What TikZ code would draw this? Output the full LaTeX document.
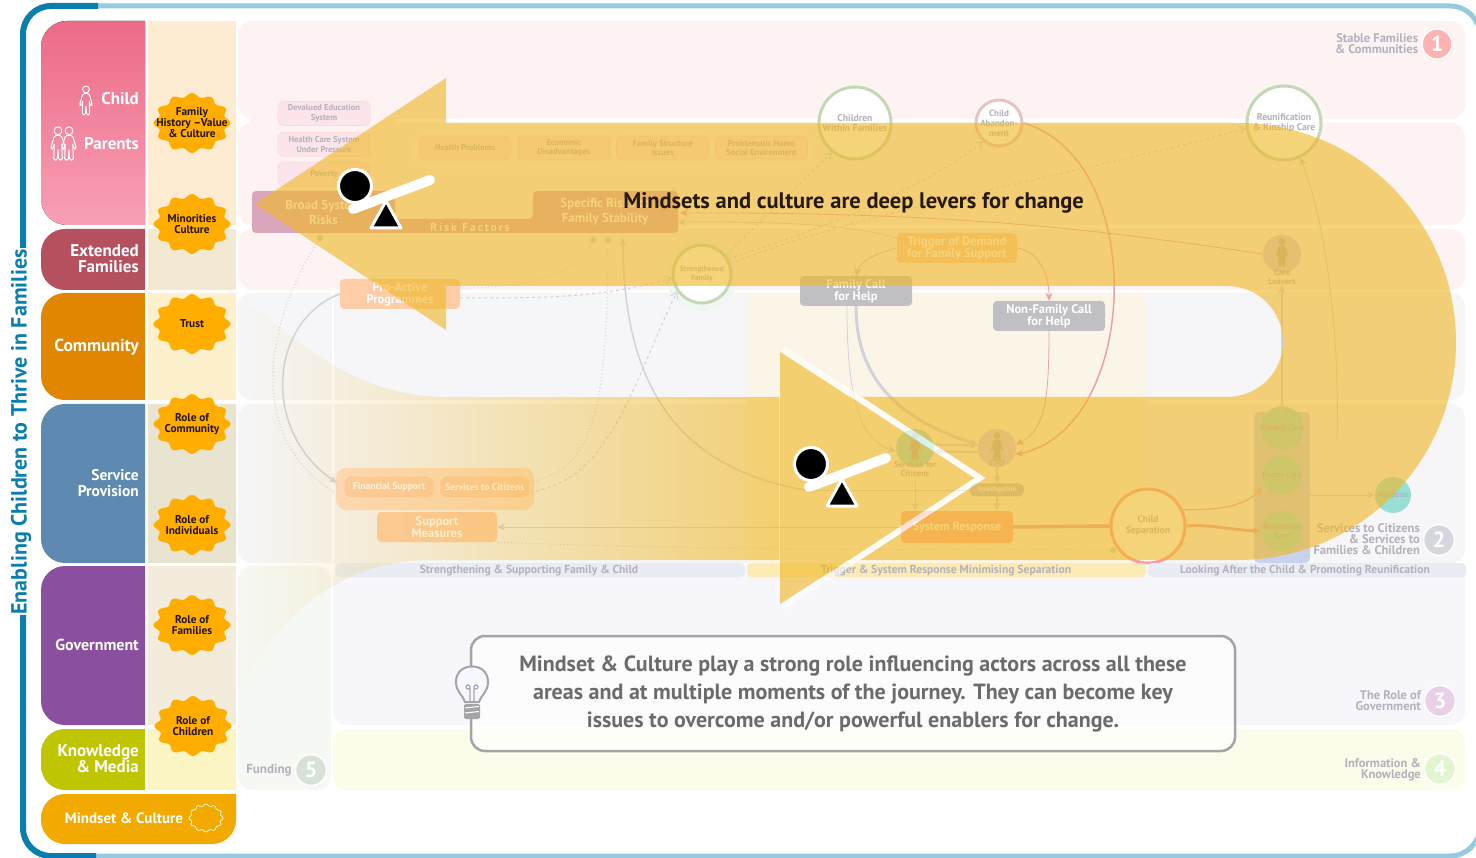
\documentclass[tikz,border=0pt]{standalone}
\usepackage{fontspec}
\setmainfont{PT Sans}
\usepackage{xcolor}
\usepackage{tikz}
\usetikzlibrary{arrows.meta,positioning,fadings,calc}
\definecolor{framedark}{HTML}{0A7FAE}
\definecolor{framelight}{HTML}{96CADF}
\definecolor{gold}{HTML}{FFAE00}
\definecolor{ribbon}{HTML}{F0B827}
\definecolor{faintline}{HTML}{D2D2D8}
\definecolor{fainttext}{HTML}{B4B0BC}
\definecolor{faintgreen}{HTML}{C3D9B5}
\definecolor{pinkline}{HTML}{E8A2AA}
\definecolor{callgray}{HTML}{C0C0C4}
\definecolor{bulbgray}{HTML}{A4A4A8}
\definecolor{bandpink}{HTML}{FDF3F3}
\definecolor{bandgray}{HTML}{F6F6F8}
\definecolor{bandtrigger}{HTML}{FBF5E8}
\definecolor{bandgov}{HTML}{F6F6FB}
\definecolor{bandinfo}{HTML}{FCFCEB}
\definecolor{bandfund}{HTML}{F6F8F4}
\definecolor{riskband}{HTML}{D9A6BC}
\definecolor{riskfill}{HTML}{FBE5EA}
\definecolor{careteal}{HTML}{9ADFD5}
\definecolor{actorblue}{HTML}{D6CFE8}
\definecolor{carecol}{HTML}{C8D2EC}
\definecolor{stagepeach}{HTML}{FFCDA8}
\definecolor{systempeach}{HTML}{FFB091}
\definecolor{pillblue}{HTML}{E9EDF3}
\definecolor{pilltrigger}{HTML}{FDEBB5}
\tikzfading[name=tailfade,left color=transparent!100,middle color=transparent!25,right color=transparent!0]
\tikzset{
  fs/.style 2 args={font=\fontsize{#1}{#2}\selectfont\bfseries},
  arr/.style={-{Stealth[length=8pt,width=7pt]},thick},
  openarr/.style={-{Straight Barb[length=6pt,width=8pt]},line width=1pt,dashed,dash pattern=on 3pt off 3pt},
  dotline/.style={line width=1pt,dash pattern=on 1pt off 2.5pt},
  rolelabel/.style={fs={17}{16},white,align=right,anchor=east,inner sep=0},
  badgetext/.style={fs={11.3}{11},text=black!85!orange,align=center,inner sep=0},
  riskbox/.style={rectangle,rounded corners=6pt,fill=riskfill,draw=#1,line width=.8pt,minimum width=92pt,
    minimum height=24pt,inner sep=0,align=center,fs={8.5}{9.5},text=fainttext},
  riskbox/.default={pink!60!white},
  stagebox/.style={rectangle,rounded corners=4pt,minimum width=120pt,minimum height=30pt,
    inner sep=0,align=center,fs={12.5}{12},text=white},
  callbox/.style={stagebox,fill=callgray,minimum width=112pt},
  stage/.style={circle,fill=white,draw=faintgreen,line width=3pt,inner sep=0,align=center,
    fs={9.7}{10},text=fainttext},
  carenode/.style={circle,fill=#1,minimum size=36pt,inner sep=0,align=center,fs={8}{9},text=fainttext},
  actorring/.style={circle,fill=#1,minimum size=38pt,inner sep=0},
  pilllabel/.style={fs={11.6}{11},text=fainttext,inner sep=0},
  sidelabel/.style={fs={12.5}{11},text=fainttext,align=right,inner sep=0,anchor=east},
  number/.style={circle,fill=#1,draw=white,line width=1.5pt,minimum size=31pt,inner sep=0,
    fs={22}{22},text=white},
}
% wavy seal outline round a centre
\newcommand{\scallop}[5]{%
  \path[#5] plot[domain=0:360,samples=145,smooth]
    ({#1+(#3+.07*#3*cos(12*\x))*cos(\x)},{#2+(#4+.07*#4*cos(12*\x))*sin(\x)}) -- cycle;}
% small standing figure
\newcommand{\figureicon}[4]{%
  \begin{scope}[shift={(#1,#2)},scale=#3]
    \path[#4] (0,-11.5) circle (3.4);
    \path[#4,rounded corners=1.6pt] (-3,-7.5) -- (3,-7.5) -- (6.5,4) -- (4.2,4.4) -- (3.2,-1)
      -- (3.8,14) -- (.5,14) -- (0,4) -- (-.5,14) -- (-3.8,14) -- (-3.2,-1) -- (-4.2,4.4) -- (-6.5,4) -- cycle;
  \end{scope}}
\begin{document}
\begin{tikzpicture}[x=1pt,y=-1pt]
\useasboundingbox (0,0) rectangle (1476,858);
\fill[white] (0,0) rectangle (1476,858);

% background bands
\foreach \ya/\yb in {21/119,123/225,229/290}
  \fill[rounded corners=14pt,fill=bandpink] (238,\ya) rectangle (1465,\yb);
\foreach \ya/\yb in {293/400,404/563}
  \fill[rounded corners=14pt,fill=bandgray] (238,\ya) rectangle (1465,\yb);
\fill[rounded corners=8pt,fill=bandtrigger] (747,293) rectangle (1146,563);
\fill[rounded corners=14pt,fill=bandgov] (333,566) rectangle (1465,725);
\fill[rounded corners=14pt,fill=bandinfo] (333,729) rectangle (1465,790);
\fill[rounded corners=14pt,fill=bandfund] (238,566) rectangle (331,790);
\draw[white,line width=1.5pt] (333,293) -- (333,563);

% left columns
\foreach \ya/\yb/\tint in {21/225/FDEBD2,229/290/F3E9D3,293/400/FDF0CC,404/563/E8E4D0,566/725/F3ECDC,729/790/FBF4C3}{
  \definecolor{tintcol}{HTML}{\tint}
  \fill[tintcol] (148,\ya) rectangle (236,\yb);}
\definecolor{pinktop}{HTML}{EC6A87}
\definecolor{pinkbottom}{HTML}{F8A0B4}
\fill[top color=pinktop,bottom color=pinkbottom]
  (145,21) [rounded corners=26pt] -- (41,21) -- (41,225) [sharp corners] -- (145,225) -- cycle;
\foreach \ya/\yb/\col in {229/290/B5505F,293/400/E08600,404/563/5E89B0,566/725/8B4F9F,729/790/BFC500}{
  \definecolor{blockcol}{HTML}{\col}
  \fill[blockcol] (145,\ya) [rounded corners=24pt] -- (41,\ya) -- (41,\yb) [sharp corners] -- (145,\yb) -- cycle;}
\fill[orange!60!yellow!95!black] (236,794) [rounded corners=24pt] -- (41,794) -- (41,844) -- (236,844)
  [sharp corners] -- (236,794) -- cycle;

\node[rolelabel] (child) at (139,99) {Child};
\node[rolelabel] (parents) at (139,144) {Parents};
\figureicon{86}{101}{1}{draw=white,line width=1pt}
\figureicon{58}{144}{1.15}{draw=white,line width=1pt}
\figureicon{69}{144}{1.15}{draw=white,line width=1pt}
\node[rolelabel] (extended) at (139,259) {Extended\\Families};
\node[rolelabel,fs={17.5}{16}] (community) at (139,347) {Community};
\node[rolelabel,fs={15.5}{16}] (service) at (139,483) {Service\\Provision};
\node[rolelabel,fs={16}{16}] (government) at (139,645) {Government};
\node[rolelabel] (media) at (139,759) {Knowledge\\\& Media};
\node[fs={15}{16},white,inner sep=0] (mindset) at (124,818) {Mindset \& Culture};
\scallop{206}{818}{16}{13}{draw=white,line width=.7pt}

% badges
\foreach \bx/\by/\bname/\btext in {192/123/bfam/{Family\\History --Value\\\& Culture},
    192/224/bmin/{Minorities\\Culture},192/324/btru/{Trust},192/424/bcom/{Role of\\Community},
    192/525/bind/{Role of\\Individuals},192/625/brol/{Role of\\Families},193/726/bchi/{Role of\\Children}}{
  \scallop{\bx}{\by}{36}{28}{fill=gold}
  \node[badgetext] (\bname) at (\bx,\by) {\btext};}

% risk factors
\fill[rounded corners=12pt,red!5!white] (250,95) rectangle (396,215);
\fill[rounded corners=12pt,red!4!white] (412,130) rectangle (812,170);
\node[riskbox] (edu) at (324,113.5) {Devalued Education\\System};
\node[riskbox,below=6pt of edu] (health) {Health Care System\\Under Pressure};
\node[riskbox,below=5pt of health] (poverty) {Poverty};
\node[riskbox] (hprob) at (465,148) {Health Problems};
\node[riskbox,right=6pt of hprob] (econ) {Economic\\Disadvantages};
\node[riskbox,right=6pt of econ] (struct) {Family Structure\\Issues};
\node[riskbox,right=6pt of struct] (home) {Problematic Home\\Social Environment};
\fill[riskband,rounded corners=4pt] (252,191) -- (395,191) -- (395,219) -- (533,219)
  -- (533,191) -- (678,191) -- (678,233) -- (252,233) -- cycle;
\node[fs={13}{15},white,align=center,inner sep=0] (broad) at (323.5,212) {Broad System\\Risks};
\node[fs={13}{15},white,align=center,inner sep=0] (specific) at (605,212) {Specific Risks to\\Family Stability};
\node[fs={11.5}{12},white,inner sep=0] (riskfac) at (470,227.5) {R\,i\,s\,k\ \ F\,a\,c\,t\,o\,r\,s};

% journey nodes
\node[stage,minimum size=72pt] (within) at (855,123) {Children\\Within Families};
\node[stage,minimum size=46pt,draw=pink!70!gray!70!white,fs={9}{10}] (abandon) at (999,123) {Child\\Abandon-\\ment};
\node[stage,minimum size=74pt] (reunion) at (1284,123) {Reunification\\\& Kinship Care};
\fill[green!25!black!5!white] (702,274) circle (37);
\node[stage,minimum size=58pt,fs={7.5}{9}] (strong) at (702,274) {Strengthened\\Family};
\node[stagebox,fill=stagepeach] (trigger) at (957,248) {Trigger of Demand\\for Family Support};
\node[callbox] (famcall) at (856,291) {Family Call\\for Help};
\node[callbox] (noncall) at (1049,316) {Non-Family Call\\for Help};
\node[stagebox,fill=stagepeach] (proact) at (400,294) {Pro-Active\\Programmes};
\fill[rounded corners=10pt,stagepeach!70!white] (336,468) rectangle (534,510);
\node[riskbox=white!50!orange!40!white,fill=stagepeach,minimum width=90pt,minimum height=22pt,text=white,fs={9.6}{10}] (finsup) at (389,487) {Financial Support};
\node[riskbox=white!50!orange!40!white,fill=stagepeach,minimum width=90pt,minimum height=22pt,text=white,fs={9.6}{10},right=5pt of finsup] (servcit) {Services to Citizens};
\node[stagebox,fill=stagepeach] (support) at (437,527) {Support\\Measures};
\node[stagebox,fill=systempeach,minimum width=112pt,minimum height=32pt,fs={12}{12}] (system) at (957,527) {System Response};
\node[stage,minimum size=74pt,draw=pink!60!red!70!white,fs={9.5}{11}] (childsep) at (1148,526) {Child\\Separation};
\node[actorring=careteal] (services) at (915,448) {};
\figureicon{915}{447}{1}{fill=black!30}
\node[fs={8.5}{9},text=fainttext,align=center,inner sep=0] (servlabel) at (915,469) {Services for\\Citizens};
\node[actorring=actorblue] (cpo) at (997,448) {};
\figureicon{997}{447}{1}{fill=black!30}
\node[fs={8.5}{9},text=fainttext,inner sep=0] (cpolabel) at (997,464) {CPO};
\node[rectangle,rounded corners=5pt,fill=callgray,minimum width=54pt,minimum height=13pt,inner sep=0,fs={7}{8},text=white] (invest) at (997,490) {Investigation};
\node[actorring=actorblue] (leavers) at (1282,254) {};
\figureicon{1282}{253}{1}{fill=black!30}
\node[fs={8.5}{9},text=fainttext,align=center,inner sep=0] (leavelabel) at (1282,277) {Care\\Leavers};
\fill[rounded corners=5pt,carecol] (1254,412) rectangle (1310,563);
\node[carenode=careteal] (kinship) at (1282,428) {Kinship Care};
\node[carenode=careteal] (foster) at (1282,475) {Foster Care};
\node[carenode=careteal] (resid) at (1282,531) {Residential\\Care};
\node[carenode=careteal] (adopt) at (1393,495) {Adoption};
\coordinate (colright) at (1310,495);
\coordinate (coltop) at (1282,412);
\coordinate (colup) at (1337,440);
\coordinate (dotbroad) at (320,238);
\coordinate (dotrisk) at (593,240);
\coordinate (dotfam) at (608,240);
\coordinate (arrfam) at (623,238);
\coordinate (dotsep) at (1113,550);
\coordinate (seesawend) at (805,490);

% connectors
\draw[arr,draw=faintline,line width=1.5pt] (proact.west) .. controls (270,320) and (260,430) .. (337,483);
\draw[dotline,draw=faintline] (dotbroad) .. controls (260,330) and (250,440) .. (334,492);
\fill[faintgreen] (dotbroad) circle (3);
\draw[openarr,draw=faintline] (proact.east |- 0,298) .. controls (550,298) and (600,298) .. (strong.188);
\draw[dotline,draw=faintline] (proact.east |- 0,288) .. controls (540,288) and (580,270) .. (dotrisk);
\fill[faintgreen] (dotrisk) circle (3);
\draw[dotline,draw=faintline] (servcit.east |- 0,482) .. controls (590,470) and (608,420) .. (dotfam);
\fill[faintgreen] (dotfam) circle (3);
\draw[openarr,draw=faintline] (servcit.east |- 0,492) .. controls (610,480) and (630,390) .. (strong.215);
\draw[arr,draw=faintline,line width=1.5pt] (seesawend) .. controls (690,470) and (623,400) .. (arrfam);
\draw[arr,draw=faintline,line width=1pt] (system.west) -- (support.east);
\draw[dotline,draw=faintline] (support.south east) .. controls (700,550) and (900,550) .. (dotsep);
\fill[faintgreen] (dotsep) circle (3);
\draw[openarr,draw=faintline] (strong.38) -- (within.232);
\draw[openarr,draw=faintline] (strong.30) .. controls (820,230) and (920,190) .. (abandon.230);
\draw[openarr,draw=faintline] (strong.20) .. controls (860,210) and (1100,170) .. (reunion.188);
\draw[arr,draw=faintline] (trigger.west |- 0,238) .. controls (840,222) and (760,222) .. (678,222);
\draw[arr,draw=pinkline] (leavers.west) .. controls (1100,230) and (960,212) .. (680,213);
\draw[arr,draw=pinkline!60!faintline] (trigger.west) .. controls (880,252) and (860,260) .. (famcall.north);
\draw[arr,draw=pinkline] (trigger.east) .. controls (1035,250) and (1049,270) .. (noncall.north);
\draw[arr,draw=pinkline] (noncall.south) .. controls (1049,400) and (1045,430) .. (cpo.10);
\draw[arr,draw=pinkline,line width=1.5pt] (abandon.east) .. controls (1150,160) and (1140,430) .. (cpo.340);
\draw[arr,draw=faintline,line width=3pt] (famcall.south) .. controls (856,380) and (900,420) .. (cpo.170);
\draw[arr,draw=faintline] (famcall.south -| 847,0) .. controls (847,400) and (860,440) .. (services.190);
\draw[arr,draw=faintline,line width=2pt] (services.10) -- (cpo.172);
\draw[arr,draw=faintline,line width=2pt] (cpo.192) -- (services.350);
\draw[arr,draw=faintline,line width=1pt] (servlabel.south) -- (system.north -| servlabel.south);
\draw[arr,draw=faintline,line width=1.5pt] (cpolabel.south) -- (invest.north);
\draw[arr,draw=faintline,line width=1.5pt] (invest.south) -- (system.north -| invest.south);
\draw[arr,draw=faintline] (invest.west) -- (seesawend);
\draw[draw=pinkline,line width=3.5pt] (system.east) -- (childsep.west);
\draw[arr,draw=pinkline,line width=1.2pt] (childsep.25) .. controls (1225,510) and (1245,505) .. (1262,488);
\draw[arr,draw=pinkline,line width=3pt] (childsep.east) .. controls (1210,524) and (1230,530) .. (resid.west);
\draw[arr,draw=faintline,line width=2pt] (coltop) -- (leavelabel.south);
\draw[arr,draw=faintgreen] (colup) .. controls (1340,330) and (1325,220) .. (reunion.295);
\draw[arr,draw=faintline] (colright) -- (adopt.west);

% side numbers and stage titles
\node[number=red!30!white,minimum size=30pt] (one) at (1437,44) {1};
\node[sidelabel,left=3pt of one] (stable) {Stable Families\\\& Communities};
\node[number=blue!20!black!16!white] (two) at (1439,540) {2};
\node[sidelabel] (citizens) at (1420,539) {Services to Citizens\\\& Services to\\Families \& Children};
\node[number=violet!18!white] (three) at (1440,701) {3};
\node[sidelabel] (rolegov) at (1421,701) {The Role of\\Government};
\node[number=yellow!40!green!18!white] (four) at (1440,769) {4};
\node[sidelabel] (inform) at (1421,769.5) {Information \&\\Knowledge};
\node[number=green!30!black!16!white] (five) at (311,770) {5};
\node[fs={13}{11},text=fainttext,inner sep=0] (funding) at (269,770) {Funding};
\fill[rounded corners=4pt,pillblue] (335,563) rectangle (745,577);
\fill[rounded corners=4pt,pilltrigger] (747,563) rectangle (1146,577);
\fill[rounded corners=4pt,pillblue] (1148,563) rectangle (1466,577);
\node[pilllabel] (pillone) at (529,571) {Strengthening \& Supporting Family \& Child};
\node[pilllabel] (pilltwo) at (946,571) {Trigger \& System Response Minimising Separation};
\node[pilllabel] (pillthree) at (1305,571) {Looking After the Child \& Promoting Reunification};

% the big arrow lying over everything
\begin{scope}[transparency group,opacity=.62]
  \fill[ribbon] (255,204) -- (446,78) -- (446,123) -- (1238,123)
    .. controls (1359,123) and (1456,222) .. (1456,342)
    .. controls (1456,462) and (1359,560) .. (1238,560) -- (780,560) -- (780,397) -- (1227,397)
    .. controls (1258,397) and (1283,372) .. (1283,342)
    .. controls (1283,311) and (1258,286) .. (1227,286) -- (446,286) -- (446,330) -- cycle;
  \fill[ribbon,path fading=tailfade] (780,397) -- (450,397) .. controls (370,397) and (320,360) .. (262,312) -- (236,300)
    -- (236,700) .. controls (270,620) and (340,560) .. (430,560) -- (780,560) -- cycle;
  \fill[ribbon] (780,352) -- (975,478) -- (780,604) -- cycle;
  \draw[white,line width=6pt,miter limit=8] (783,349) -- (980,478) -- (783,607);
\end{scope}

% seesaws
\foreach \sx/\sy/\sname in {0/0/one,456/278/two}{
  \begin{scope}[shift={(\sx,\sy)}]
    \node[circle,fill=black,draw=white,line width=3pt,minimum size=33pt,inner sep=0] (ball\sname) at (355,186) {};
    \draw[white,line width=10pt,line cap=round] (353,209) -- (430,180);
    \draw[fill=black,draw=white,line width=3pt,line join=round] (386,201) -- (371,228) -- (401,228) -- cycle;
  \end{scope}}
\node[fs={22.5}{26},text=black!80!brown,inner sep=0] (levers) at (853.5,203) {Mindsets and culture are deep levers for change};

% note at the bottom
\node[rectangle,rounded corners=14pt,draw=bulbgray,line width=2.5pt,fill=white,fill opacity=.75,text opacity=1,
  minimum width=764pt,minimum height=115pt,align=center,inner sep=0,fs={22}{28},text=black!58] (note) at (853,693.5)
  {\raisebox{-1.5pt}{Mindset \& Culture play a strong role influencing actors across all these}\\
   \raisebox{-1.5pt}{areas and at multiple moments of the journey. They can become key}\\
   \raisebox{-1.5pt}{issues to overcome and/or powerful enablers for change.}};
\draw[draw=white!95!blue,fill=white!95!blue,line width=7pt] (472,667) -- (472,718);
\draw[draw=bulbgray,fill=white!97!blue,line width=2pt] (465,702) .. controls (463,695) and (456,692) .. (456,682)
  .. controls (456,672) and (463,666.5) .. (472,666.5) .. controls (481,666.5) and (488,672) .. (488,682)
  .. controls (488,692) and (481,695) .. (479,702) -- cycle;
\draw[draw=bulbgray,line width=1.2pt] (470,702) -- (470,687) arc (0:-300:2) (474,702) -- (474,687) arc (180:480:2);
\fill[bulbgray,rounded corners=2pt] (464,704) rectangle (480,719);
\draw[white,line width=1pt] (465,708) -- (479,706.5) (465,713) -- (479,711.5);

% outer frame
\draw[framelight,line width=5pt,rounded corners=30pt] (96,6) -- (1480,6) -- (1480,856) -- (96,856);
\draw[framedark,line width=6pt,rounded corners=28pt] (98,6) -- (23,6) -- (23,248);
\draw[framedark,line width=6pt,rounded corners=28pt] (23,615) -- (23,856) -- (96,856);
\node[rotate=90,fs={22}{24},text=framedark,inner sep=0] (title) at (21,432) {Enabling Children to Thrive in Families};
\end{tikzpicture}
\end{document}
